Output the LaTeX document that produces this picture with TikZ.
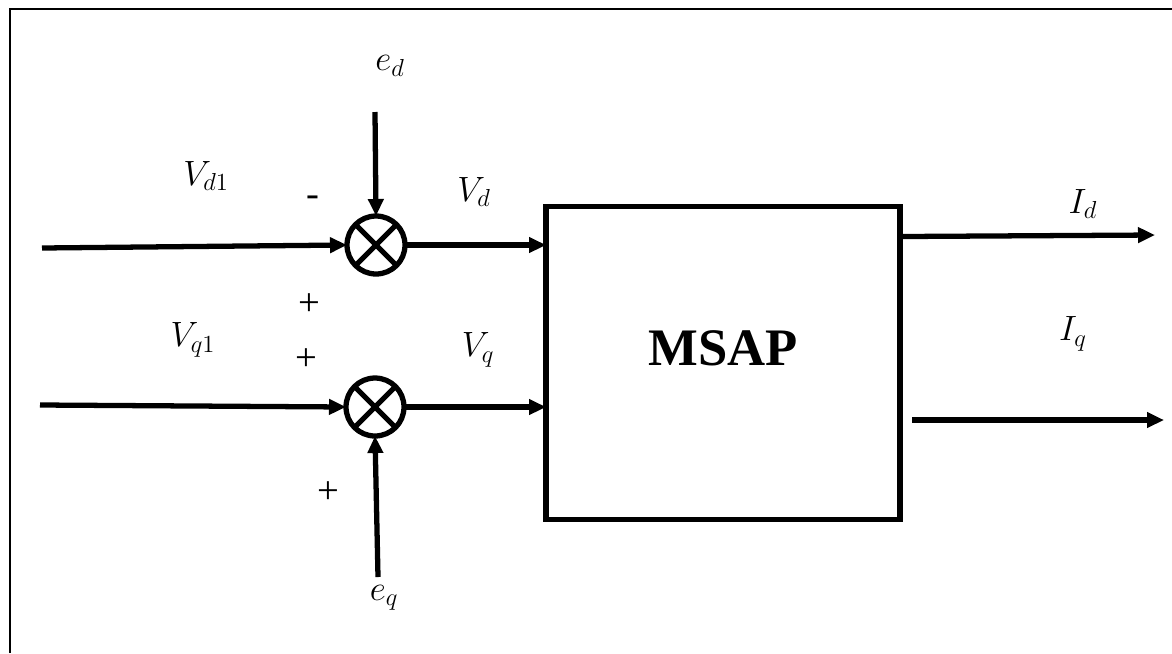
\RequirePackage{fix-cm}
\documentclass[tikz,border=0pt]{standalone}
\usepackage{fontspec}
\setmainfont{Liberation Serif}
\usetikzlibrary{arrows.meta}
\tikzset{
	wire/.style={line width=3pt, -{Triangle[length=0.34cm,width=0.3cm]}},
	sumnode/.style={circle, draw, line width=3pt, minimum size=1.16cm, inner sep=0pt, outer sep=0pt},
	blockbox/.style={draw, line width=3.2pt, minimum width=7.08cm, minimum height=6.26cm, outer sep=0pt},
	lbl/.style={font=\fontsize{20}{24}\selectfont},
	sgn/.style={font=\fontsize{22}{24}\selectfont},
}

\begin{document}
\begin{tikzpicture}[x=0.02cm, y=-0.02cm]
			%%%%% START %%%%%
			
			\useasboundingbox (0,0) rectangle (1172,653);
			\draw[line width=1.2pt] (10,653) -- (10,9) -- (1172,9);
			
			\node[sumnode] (sd) at (376,245) {};
			\draw[line width=3pt] (sd.135) -- (sd.-45) (sd.45) -- (sd.-135);
			
			\node[sumnode] (sq) at (375,407) {};
			\draw[line width=3pt] (sq.135) -- (sq.-45) (sq.45) -- (sq.-135);
			
			\node[blockbox] (msap) at (723,363) {};
			\node[font=\fontsize{30}{36}\selectfont\bfseries] (msaptxt) at ([yshift=0.3cm]msap.center) {MSAP};
			
			\coordinate (vd1in) at (42,248);
			\coordinate (vq1in) at (40,405);
			\coordinate (edin) at (375,112);
			\coordinate (eqin) at (378,577);
			\coordinate (idout) at (1155,235);
			\coordinate (iqstart) at (912,420);
			\coordinate (iqout) at (1164,420);
			
			\draw[wire] (vd1in) -- (sd.west);
			\draw[wire] (edin) -- (sd.north);
			\draw[wire] (sd.east) -- (sd.east -| msap.west);
			
			\draw[wire] (vq1in) -- (sq.west);
			\draw[wire] (eqin) -- (sq.south);
			\draw[wire] (sq.east) -- (sq.east -| msap.west);
			
			\draw[wire] ([yshift=-0.6cm]msap.north east) -- (idout);
			\draw[wire] (iqstart) -- (iqout);
			
			\node[lbl] (ed) at (390,66) {$e_d$};
			\node[lbl] (vd1) at (206,176) {$V_{d1}$};
			\node[lbl] (vd) at (474,192) {$V_d$};
			\node[lbl] (vq1) at (193,340) {$V_{q1}$};
			\node[lbl] (vq) at (478,350) {$V_q$};
			\node[lbl] (eq) at (384,598) {$e_q$};
			\node[lbl] (id) at (1083,204) {$I_d$};
			\node[lbl] (iq) at (1073,334) {$I_q$};
			
			\node[sgn] (sgnd) at (313,201) {-};
			\node[sgn] (sgna) at (309,305) {+};
			\node[sgn] (sgnb) at (306,360) {+};
			\node[sgn] (sgnc) at (328,493) {+};
			
			%%%%% END %%%%%
		\end{tikzpicture}
\end{document}
